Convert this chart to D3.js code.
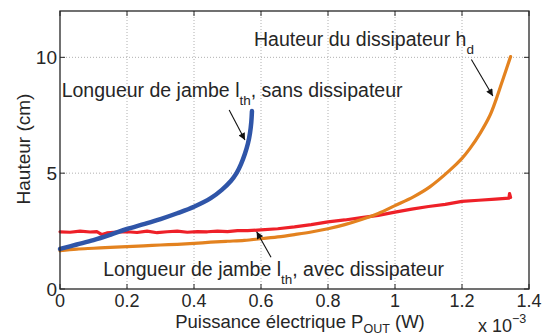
<!DOCTYPE html>
<html><head><meta charset="utf-8">
<script src="https://cdn.jsdelivr.net/npm/d3@7"></script>
<style>
body{margin:0;background:#fff;}
text{font-family:"Liberation Sans",Arial,Helvetica,sans-serif;fill:#262626;}
</style></head>
<body>
<svg id="c" width="544" height="336"></svg>
<script>
// x in units of 1e-3 W, y in cm
const xTicks = [0, 0.2, 0.4, 0.6, 0.8, 1.0, 1.2, 1.4];
const xTickLabels = ["0", "0.2", "0.4", "0.6", "0.8", "1", "1.2", "1.4"];
const yTicks = [0, 5, 10];
const yTickLabels = ["0", "5", "10"];

// Blue: leg length, no heat sink
const blueX = [0, 0.05, 0.1, 0.15, 0.2, 0.25, 0.3, 0.35, 0.4, 0.45, 0.483, 0.51, 0.527, 0.54, 0.552, 0.561, 0.567, 0.571, 0.573];
const blueY = [1.73, 1.92, 2.11, 2.34, 2.59, 2.8, 3.02, 3.27, 3.55, 3.92, 4.28, 4.66, 5.0, 5.38, 5.84, 6.28, 6.72, 7.2, 7.68];

// Orange: heat sink height
const orangeX = [0, 0.05, 0.1, 0.15, 0.2, 0.25, 0.3, 0.35, 0.4, 0.45, 0.5, 0.55, 0.6, 0.65, 0.7, 0.75, 0.8, 0.85, 0.9, 0.95, 1.0, 1.055, 1.104, 1.164, 1.2, 1.224, 1.254, 1.284, 1.303, 1.323, 1.345];
const orangeY = [1.65, 1.72, 1.76, 1.8, 1.83, 1.86, 1.9, 1.93, 1.97, 2.02, 2.06, 2.1, 2.17, 2.25, 2.35, 2.46, 2.6, 2.78, 3.0, 3.26, 3.6, 3.98, 4.41, 5.13, 5.64, 6.07, 6.72, 7.51, 8.23, 9.09, 10.03];

// Red: leg length, with heat sink
const redX = [0, 0.03, 0.06, 0.09, 0.11, 0.125, 0.14, 0.17, 0.2, 0.23, 0.26, 0.29, 0.32, 0.35, 0.38, 0.41, 0.44, 0.47, 0.5, 0.53, 0.56, 0.6, 0.65, 0.7, 0.75, 0.8, 0.85, 0.9, 0.95, 1.0, 1.05, 1.1, 1.15, 1.2, 1.25, 1.3, 1.34, 1.342, 1.345];
const redY = [2.47, 2.45, 2.5, 2.46, 2.48, 2.35, 2.42, 2.46, 2.47, 2.44, 2.5, 2.43, 2.47, 2.5, 2.45, 2.48, 2.47, 2.5, 2.48, 2.52, 2.52, 2.55, 2.6, 2.68, 2.78, 2.9, 2.98, 3.08, 3.18, 3.32, 3.45, 3.56, 3.65, 3.78, 3.83, 3.88, 3.92, 4.12, 3.95];

const svg = d3.select("#c");
const L = 60, R = 529, T = 11, B = 289;
const x = d3.scaleLinear().domain([0, 1.4]).range([L, R]);
const y = d3.scaleLinear().domain([0, 12]).range([B, T]);
const FS = 19, FA = 19.5, FSUB = 13.5;

// grid
const g = svg.append("g");
g.selectAll(".gx").data(xTicks.slice(1, -1)).enter().append("line")
  .attr("x1", d => x(d)).attr("x2", d => x(d)).attr("y1", T).attr("y2", B)
  .attr("stroke", "#b0b0b0").attr("stroke-width", 1).attr("stroke-dasharray", "1,2");
g.selectAll(".gy").data(yTicks.slice(1)).enter().append("line")
  .attr("y1", d => y(d)).attr("y2", d => y(d)).attr("x1", L).attr("x2", R)
  .attr("stroke", "#b0b0b0").attr("stroke-width", 1).attr("stroke-dasharray", "1,2");

// series
const smooth = d3.line().x(d => x(d[0])).y(d => y(d[1])).curve(d3.curveCatmullRom.alpha(0.5));
const straight = d3.line().x(d => x(d[0])).y(d => y(d[1]));
const series = [
  {X: redX, Y: redY, c: "#ee2028", w: 3.2, gen: straight},
  {X: orangeX, Y: orangeY, c: "#e3821f", w: 3.2, gen: smooth},
  {X: blueX, Y: blueY, c: "#2f55a8", w: 4.5, gen: smooth}
];
series.forEach(s => {
  const pts = s.X.map((v, i) => [v, s.Y[i]]);
  svg.append("path").datum(pts).attr("d", s.gen)
    .attr("fill", "none").attr("stroke", s.c).attr("stroke-width", s.w)
    .attr("stroke-linecap", "round").attr("stroke-linejoin", "round");
});

// axes box
const ax = svg.append("g");
ax.append("rect").attr("x", L).attr("y", T).attr("width", R - L).attr("height", B - T)
  .attr("fill", "none").attr("stroke", "#262626").attr("stroke-width", 1.3);
const tl = 5;
xTicks.forEach(t => {
  ax.append("line").attr("x1", x(t)).attr("x2", x(t)).attr("y1", B).attr("y2", B - tl).attr("stroke", "#262626");
  ax.append("line").attr("x1", x(t)).attr("x2", x(t)).attr("y1", T).attr("y2", T + tl).attr("stroke", "#262626");
});
yTicks.forEach(t => {
  ax.append("line").attr("x1", L).attr("x2", L + tl).attr("y1", y(t)).attr("y2", y(t)).attr("stroke", "#262626");
  ax.append("line").attr("x1", R).attr("x2", R - tl).attr("y1", y(t)).attr("y2", y(t)).attr("stroke", "#262626");
});
ax.selectAll(".xl").data(xTicks).enter().append("text")
  .attr("x", d => x(d)).attr("y", 307).attr("text-anchor", "middle").attr("font-size", 18)
  .text((d, i) => xTickLabels[i]);
ax.selectAll(".yl").data(yTicks).enter().append("text")
  .attr("x", L - 3).attr("y", d => y(d) + 7).attr("text-anchor", "end").attr("font-size", FS)
  .text((d, i) => yTickLabels[i]);

// axis labels
const xl = svg.append("text").attr("x", 300).attr("y", 328).attr("text-anchor", "middle").attr("font-size", 18.5);
xl.append("tspan").text("Puissance électrique P");
xl.append("tspan").attr("font-size", 12.5).attr("dy", 5).text("OUT");
xl.append("tspan").attr("dy", -5).text(" (W)");
svg.append("text").attr("transform", "translate(30,149) rotate(-90)").attr("text-anchor", "middle")
  .attr("font-size", FS).text("Hauteur (cm)");
const ex = svg.append("text").attr("x", 478).attr("y", 331.5).attr("font-size", 18);
ex.append("tspan").text("x 10");
ex.append("tspan").attr("font-size", 12.5).attr("dy", -9).text("−3");

// annotations (data coords)
const notes = [
  {x: 0.005, y: 8.3, main: "Longueur de jambe l", sub: "th", rest: ", sans dissipateur"},
  {x: 0.579, y: 10.5, main: "Hauteur du dissipateur h", sub: "d", rest: ""},
  {x: 0.129, y: 0.55, main: "Longueur de jambe l", sub: "th", rest: ", avec dissipateur"}
];
notes.forEach(n => {
  const t = svg.append("text").attr("x", x(n.x)).attr("y", y(n.y)).attr("font-size", FA);
  t.append("tspan").text(n.main);
  t.append("tspan").attr("font-size", FSUB).attr("dy", 8).text(n.sub);
  if (n.rest) t.append("tspan").attr("dy", -8).text(n.rest);
});
const arrows = [
  [[0.505, 7.73], [0.552, 6.43]],
  [[1.228, 9.91], [1.292, 8.33]],
  [[0.630, 1.37], [0.587, 2.47]]
];
svg.append("defs").append("marker").attr("id", "ah").attr("viewBox", "0 0 10 10")
  .attr("refX", 10).attr("refY", 5).attr("markerWidth", 9).attr("markerHeight", 7)
  .attr("markerUnits", "userSpaceOnUse").attr("orient", "auto")
  .append("path").attr("d", "M0,0 L10,5 L0,10 z").attr("fill", "#111");
arrows.forEach(a => {
  svg.append("line").attr("x1", x(a[0][0])).attr("y1", y(a[0][1])).attr("x2", x(a[1][0])).attr("y2", y(a[1][1]))
    .attr("stroke", "#111").attr("stroke-width", 1.1).attr("marker-end", "url(#ah)");
});
</script>
</body></html>
